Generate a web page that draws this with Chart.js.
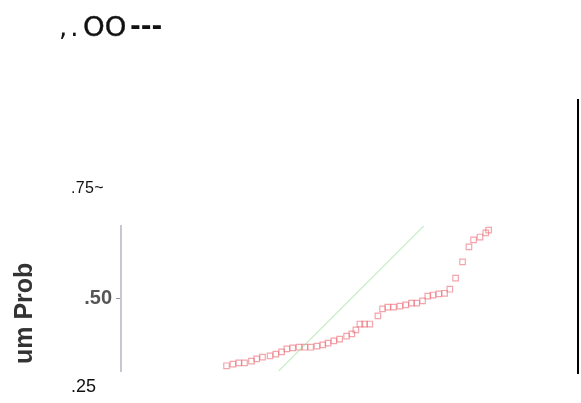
<!DOCTYPE html>
<html>
<head>
<meta charset="utf-8">
<script src="https://cdn.jsdelivr.net/npm/chart.js@4.4.1/dist/chart.umd.min.js"></script>
<style>
  body { margin: 0; background: #fff; }
  #wrap { position: relative; width: 581px; height: 403px; overflow: hidden; }
  .txt { position: absolute; white-space: nowrap; line-height: 1; color: #111; }
  #rightRule { position: absolute; left: 577px; top: 99px; width: 2px; height: 275px; background: #000; }
</style>
</head>
<body>
<div id="wrap">
  <canvas id="ppChart" width="581" height="403"></canvas>
  <!-- garbled heading, split in three pieces to follow the picture -->
  <div class="txt" style="left:59px; top:12px; font: 26px 'DejaVu Sans'; letter-spacing:3px;">,.</div>
  <div class="txt" style="left:83px; top:12px; font: 26px 'DejaVu Sans'; letter-spacing:0px; transform-origin: 0 0; transform: scaleX(1.06); -webkit-text-stroke: 0.4px #111;">OO</div>
  <div class="txt" style="left:130px; top:11px; font: bold 26px 'DejaVu Sans';">---</div>
  <div class="txt" style="left:71px; top:179px; font: 16px 'Liberation Sans'; letter-spacing:0.3px;">.75~</div>
  <div class="txt" style="left:71px; top:376px; font: 18px 'Liberation Sans';">.25</div>
  <div class="txt" style="left:9px; top:364px; font: bold 25px 'Liberation Sans'; color:#333; transform-origin: 0 0; transform: rotate(-90deg);">um Prob</div>
  <div id="rightRule"></div>
</div>
<script>
var expectedProb = [0.285, 0.296, 0.306, 0.316, 0.328, 0.337, 0.347, 0.360, 0.370, 0.380,
                    0.389, 0.399, 0.410, 0.420, 0.430, 0.441, 0.451, 0.460, 0.470, 0.480,
                    0.492, 0.501, 0.508, 0.515, 0.523, 0.532, 0.546, 0.554, 0.563, 0.573,
                    0.584, 0.594, 0.604, 0.613, 0.623, 0.632, 0.641, 0.651, 0.661, 0.670,
                    0.680, 0.692, 0.703, 0.711, 0.722, 0.732, 0.737];
var observedProb = [0.384, 0.387, 0.389, 0.389, 0.392, 0.396, 0.399, 0.401, 0.404, 0.408,
                    0.413, 0.415, 0.416, 0.416, 0.416, 0.418, 0.420, 0.423, 0.427, 0.430,
                    0.435, 0.439, 0.446, 0.456, 0.456, 0.456, 0.470, 0.482, 0.485, 0.485,
                    0.487, 0.489, 0.492, 0.492, 0.496, 0.504, 0.506, 0.508, 0.509, 0.516,
                    0.535, 0.563, 0.589, 0.601, 0.606, 0.613, 0.618];
var refLine = [0.375, 0.625];
var yTicks = [0.5];
var yTickLabels = ['.50'];

function init(){
  var points = [];
  for (var i = 0; i < expectedProb.length; i++){
    points.push({x: expectedProb[i], y: observedProb[i]});
  }
  var diag = refLine.map(function(v){ return {x: v, y: v}; });

  var ctx = document.getElementById('ppChart').getContext('2d');
  new Chart(ctx, {
    type: 'scatter',
    data: {
      datasets: [{
        type: 'line',
        data: diag,
        borderColor: 'rgba(130, 215, 130, 0.45)',
        borderWidth: 1.2,
        pointRadius: 0,
        fill: false
      }, {
        data: points,
        pointStyle: 'rect',
        pointRadius: 3.9,
        pointBorderWidth: 1.2,
        pointBorderColor: 'rgba(235, 105, 115, 0.6)',
        pointBackgroundColor: 'rgba(255, 255, 255, 0)'
      }]
    },
    options: {
      responsive: false,
      animation: false,
      layout: { padding: { left: 0, top: 226, right: 21, bottom: 32 } },
      plugins: { legend: { display: false }, tooltip: { enabled: false } },
      scales: {
        x: { type: 'linear', min: 0.103, max: 0.860, display: false },
        y: {
          type: 'linear', min: 0.375, max: 0.625,
          afterFit: function(scale){ scale.width = 121; },
          afterBuildTicks: function(scale){
            scale.ticks = yTicks.map(function(v){ return {value: v}; });
          },
          ticks: {
            padding: 4,
            color: '#555',
            font: { family: 'Liberation Sans', size: 20, weight: 'bold' },
            callback: function(v, i){ return yTickLabels[i]; }
          },
          grid: { drawOnChartArea: false, drawTicks: true, tickLength: 5, tickColor: '#999' },
          border: { color: '#c8c6d2', width: 2 }
        }
      }
    }
  });
}

init();
</script>
</body>
</html>
